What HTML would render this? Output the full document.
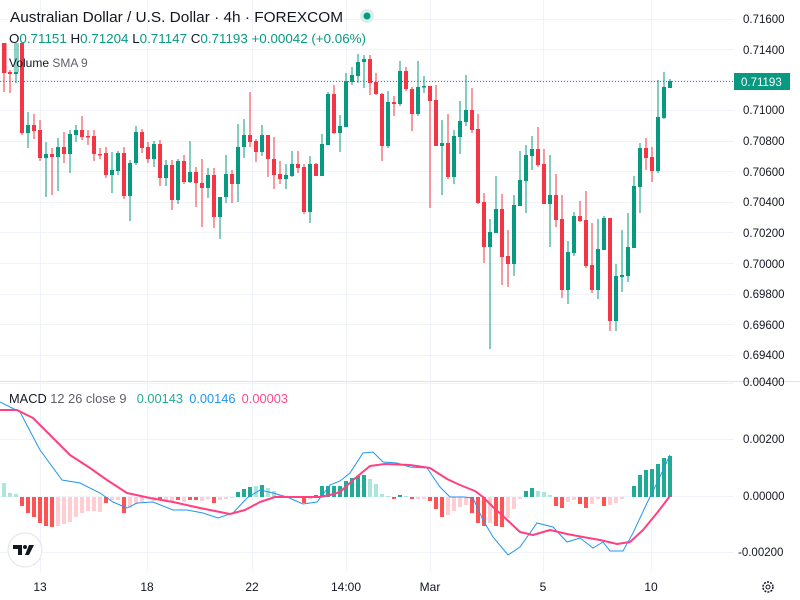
<!DOCTYPE html>
<html><head><meta charset="utf-8"><style>
html,body{margin:0;padding:0;background:#fff;}
svg{display:block;font-family:"Liberation Sans",sans-serif;}
</style></head><body>
<svg width="800" height="600" viewBox="0 0 800 600" xmlns="http://www.w3.org/2000/svg">
<rect width="800" height="600" fill="#fff"/>
<!-- grid -->
<g stroke="#f0f3fa" stroke-width="1">
<path d="M0 19.5H734M0 49.5H734M0 80.5H734M0 110.5H734M0 141.5H734M0 171.5H734M0 202.5H734M0 232.5H734M0 263.5H734M0 294.5H734M0 324.5H734M0 355.5H734"/>
<path d="M0 383.5H734M0 439.5H734M0 496.5H734M0 552.5H734"/>
<path d="M40.5 0V572M147.5 0V572M252.5 0V572M346.5 0V572M430.5 0V572M543.5 0V572M651.5 0V572"/>
</g>
<line x1="0" y1="381.5" x2="800" y2="381.5" stroke="#e0e3eb"/>
<!-- volume overlay -->
<rect x="14" y="43" width="5" height="29" fill="rgba(8,153,129,0.45)"/>
<rect x="2" y="43" width="5" height="30" fill="rgba(242,54,69,0.45)"/>
<!-- current price line -->
<line x1="0" y1="81.5" x2="734" y2="81.5" stroke="#089981" stroke-dasharray="1 2"/>
<!-- candles green -->
<g stroke="#089981" stroke-width="1" fill="none">
<path d="M16 72V83M28 112V148M46 142V197M58 138V191M70 130V173M76 125V142M112 152V193M118 151V175M130 160V221M136 126V165M154 141V167M166 160V186M178 159V204M190 141V183M208 168V198M220 197V239M226 155V203M238 124V202M244 119V158M262 125V156M286 164V189M292 151V177M310 156V223M322 134V176M328 92V145M340 115V152M346 73V127M352 67V85M358 54V83M364 55V88M388 91V148M400 61V106M418 61V116M424 76V93M442 120V195M454 130V184M460 101V154M466 75V126M490 219V349M496 176V233M514 195V276M520 151V206M526 145V213M532 136V170M550 155V247M568 241V304M574 212V256M598 219V299M604 216V250M616 264V331M622 230V292M628 213V282M634 176V248M640 143V213M658 80V173M664 72V119M670 79V88"/>
</g>
<g fill="#089981">
<path d="M14 72h4v2h-4zM26 125h4v8h-4zM44 154h4v4h-4zM56 147h4v10h-4zM68 134h4v20h-4zM74 130h4v5h-4zM110 170h4v5h-4zM116 153h4v18h-4zM128 163h4v33h-4zM134 132h4v31h-4zM152 144h4v15h-4zM164 165h4v13h-4zM176 161h4v39h-4zM188 172h4v10h-4zM206 175h4v13h-4zM218 197h4v20h-4zM224 174h4v23h-4zM236 147h4v37h-4zM242 135h4v12h-4zM260 135h4v17h-4zM284 175h4v4h-4zM290 164h4v12h-4zM308 164h4v48h-4zM320 144h4v32h-4zM326 94h4v51h-4zM338 126h4v7h-4zM344 81h4v46h-4zM350 75h4v7h-4zM356 62h4v14h-4zM362 59h4v3h-4zM386 102h4v44h-4zM398 71h4v33h-4zM416 87h4v27h-4zM422 86h4v1.5h-4zM440 143h4v3h-4zM452 136h4v41h-4zM458 121h4v16h-4zM464 110h4v12h-4zM488 232h4v15h-4zM494 209h4v24h-4zM512 205h4v59h-4zM518 180h4v26h-4zM524 155h4v26h-4zM530 149h4v7h-4zM548 195h4v9h-4zM566 252h4v38h-4zM572 216h4v37h-4zM596 249h4v41h-4zM602 218h4v32h-4zM614 276h4v45h-4zM620 275h4v2h-4zM626 247h4v29h-4zM632 186h4v62h-4zM638 148h4v39h-4zM656 117h4v54h-4zM662 87h4v31h-4zM668 81h4v7h-4z"/>
</g>
<!-- candles red -->
<g stroke="#f23645" stroke-width="1" fill="none">
<path d="M4 43V92M10 70V93M22 43V135M34 114V139M40 120V161M52 148V195M64 132V163M82 116V140M88 130V145M94 130V161M100 148V159M106 147V178M124 147V199M142 129V153M148 142V163M160 140V186M172 160V210M184 155V184M196 167V207M202 159V227M214 168V228M232 170V203M250 92V147M256 139V162M268 135V177M274 137V189M280 161V184M298 151V173M304 164V214M316 163V176M334 85V134M370 55V95M376 73V95M382 93V161M394 96V116M406 67V91M412 87V131M430 86V208M436 85V146M448 114V179M472 88V133M478 114V204M484 193V263M502 194V285M508 230V287M538 127V167M544 149V204M556 174V227M562 195V298M580 201V222M586 191V268M592 223V293M610 218V331M646 138V170M652 147V182"/>
</g>
<g fill="#f23645">
<path d="M2 43h4v30h-4zM8 72h4v2h-4zM20 43h4v90h-4zM32 125h4v6h-4zM38 130h4v28h-4zM50 154h4v3h-4zM62 147h4v7h-4zM80 130h4v7h-4zM86 136h4v1.5h-4zM92 136h4v18h-4zM98 154h4v1.5h-4zM104 153h4v22h-4zM122 153h4v43h-4zM140 132h4v16h-4zM146 147h4v12h-4zM158 144h4v34h-4zM170 165h4v35h-4zM182 161h4v21h-4zM194 172h4v11h-4zM200 183h4v5h-4zM212 175h4v42h-4zM230 174h4v10h-4zM248 135h4v7h-4zM254 141h4v11h-4zM266 135h4v24h-4zM272 159h4v16h-4zM278 174h4v5h-4zM296 164h4v4h-4zM302 167h4v45h-4zM314 164h4v12h-4zM332 94h4v39h-4zM368 59h4v24h-4zM374 82h4v12h-4zM380 94h4v52h-4zM392 102h4v2h-4zM404 71h4v18h-4zM410 89h4v25h-4zM428 86h4v15h-4zM434 100h4v46h-4zM446 143h4v34h-4zM470 110h4v20h-4zM476 129h4v74h-4zM482 202h4v45h-4zM500 209h4v48h-4zM506 256h4v8h-4zM536 149h4v16h-4zM542 164h4v40h-4zM554 195h4v25h-4zM560 219h4v71h-4zM578 216h4v5h-4zM584 220h4v46h-4zM590 265h4v25h-4zM608 218h4v103h-4zM644 148h4v10h-4zM650 157h4v14h-4z"/>
</g>
<!-- price axis -->
<g font-size="11.5" fill="#131722">
<text x="743" y="23">0.71600</text>
<text x="743" y="54">0.71400</text>
<text x="743" y="114">0.71000</text>
<text x="743" y="145">0.70800</text>
<text x="743" y="176">0.70600</text>
<text x="743" y="206">0.70400</text>
<text x="743" y="237">0.70200</text>
<text x="743" y="268">0.70000</text>
<text x="743" y="298">0.69800</text>
<text x="743" y="329">0.69600</text>
<text x="743" y="359">0.69400</text>
<text x="743" y="386">0.00400</text>
<text x="743" y="443">0.00200</text>
<text x="743" y="500">0.00000</text>
<text x="738" y="556">-0.00200</text>
</g>
<rect x="734" y="73" width="56" height="17" fill="#089981"/>
<text x="741" y="86" font-size="11.5" fill="#fff">0.71193</text>
<!-- header -->
<text x="10" y="22" font-size="14.5" fill="#131722" textLength="333" lengthAdjust="spacingAndGlyphs">Australian Dollar / U.S. Dollar · 4h · FOREXCOM</text>
<circle cx="367" cy="16" r="7" fill="#d7f0ea"/>
<circle cx="367" cy="16" r="3.5" fill="#089981"/>
<text x="9" y="43" font-size="12.5" fill="#089981" textLength="357" lengthAdjust="spacingAndGlyphs"><tspan fill="#131722">O</tspan>0.71151 <tspan fill="#131722">H</tspan>0.71204 <tspan fill="#131722">L</tspan>0.71147 <tspan fill="#131722">C</tspan>0.71193 +0.00042 (+0.06%)</text>
<text x="9" y="67" font-size="12" fill="#131722">Volume <tspan fill="#5d606b">SMA 9</tspan></text>
<!-- MACD histogram -->
<g fill="#22ab94"><path d="M236 492h4v5h-4zM242 489h4v8h-4zM248 487h4v10h-4zM260 485h4v12h-4zM290 496h4v1h-4zM314 495h4v2h-4zM320 486h4v11h-4zM326 486h4v11h-4zM332 486h4v11h-4zM338 486h4v11h-4zM344 481h4v16h-4zM350 478h4v19h-4zM356 476h4v21h-4zM362 475h4v22h-4zM398 495h4v2h-4zM524 491h4v6h-4zM530 488h4v9h-4zM632 486h4v11h-4zM638 475h4v22h-4zM644 470h4v27h-4zM650 469h4v28h-4zM656 464h4v33h-4zM662 458h4v39h-4zM668 456h4v41h-4z"/></g>
<g fill="#ace5dc"><path d="M2 483h4v14h-4zM8 493h4v4h-4zM14 494h4v3h-4zM254 486h4v11h-4zM266 488h4v9h-4zM272 491h4v6h-4zM278 495h4v2h-4zM284 496h4v1h-4zM296 496h4v1h-4zM368 479h4v18h-4zM374 484h4v13h-4zM380 494h4v3h-4zM386 496h4v1h-4zM404 496h4v1h-4zM536 491h4v6h-4zM542 492h4v5h-4zM548 495h4v2h-4z"/></g>
<g fill="#ff5252"><path d="M20 497h4v9h-4zM26 497h4v16h-4zM32 497h4v20h-4zM38 497h4v26h-4zM44 497h4v29h-4zM50 497h4v30h-4zM104 497h4v6h-4zM122 497h4v16h-4zM158 497h4v3h-4zM176 497h4v3h-4zM188 497h4v3h-4zM194 497h4v3h-4zM212 497h4v6h-4zM302 497h4v6h-4zM392 497h4v2h-4zM410 497h4v2h-4zM428 497h4v4h-4zM434 497h4v12h-4zM440 497h4v20h-4zM470 497h4v16h-4zM476 497h4v26h-4zM482 497h4v29h-4zM494 497h4v29h-4zM500 497h4v30h-4zM554 497h4v9h-4zM560 497h4v11h-4zM578 497h4v7h-4zM584 497h4v11h-4zM602 497h4v9h-4z"/></g>
<g fill="#ffcdd2"><path d="M56 497h4v29h-4zM62 497h4v27h-4zM68 497h4v25h-4zM74 497h4v20h-4zM80 497h4v16h-4zM86 497h4v14h-4zM92 497h4v14h-4zM98 497h4v15h-4zM110 497h4v3h-4zM116 497h4v3h-4zM128 497h4v11h-4zM134 497h4v7h-4zM140 497h4v5h-4zM146 497h4v2h-4zM152 497h4v4h-4zM164 497h4v5h-4zM170 497h4v5h-4zM182 497h4v5h-4zM200 497h4v4h-4zM206 497h4v2h-4zM218 497h4v3h-4zM224 497h4v2h-4zM230 497h4v1h-4zM308 497h4v2h-4zM416 497h4v2h-4zM422 497h4v2h-4zM446 497h4v18h-4zM452 497h4v14h-4zM458 497h4v10h-4zM464 497h4v8h-4zM488 497h4v26h-4zM506 497h4v21h-4zM512 497h4v12h-4zM518 497h4v2h-4zM566 497h4v5h-4zM572 497h4v3h-4zM590 497h4v7h-4zM596 497h4v2h-4zM608 497h4v8h-4zM614 497h4v6h-4zM620 497h4v2h-4z"/></g>
<!-- MACD line -->
<polyline fill="none" stroke="#2196f3" stroke-width="1" points="0,402 20,412 40,450 62,480 80,483 100,493 113,502 127,508 137,503 153,502 173,510 187,510 203,513 218,518 233,513 247,498 260,490 273,493 287,497 303,504 317,502 330,485 340,481 350,473 363,453 373,452 383,462 397,463 410,467 427,468 440,487 450,497 463,497 473,498 483,520 493,537 508,555 520,547 537,523 553,527 567,542 580,538 593,548 603,542 610,551 623,551 633,533 647,503 657,483 670,455"/>
<!-- signal -->
<polyline fill="none" stroke="#ff4081" stroke-width="2" stroke-linejoin="round" points="0,410 17,410 33,418 50,435 70,455 90,468 107,480 127,493 150,498 173,502 200,508 230,514 245,510 260,502 275,497 300,497 320,497 330,495 340,492 353,480 370,466 385,464 410,465 430,468 447,479 460,485 475,491 483,497 493,507 505,518 520,532 533,535 550,530 567,534 583,537 600,540 617,544 630,542 643,530 657,513 670,496"/>
<!-- MACD legend -->
<text x="9" y="403" font-size="12.5" fill="#131722" textLength="279" lengthAdjust="spacingAndGlyphs">MACD <tspan fill="#5d606b">12 26 close 9</tspan><tspan dx="10" fill="#22ab94">0.00143</tspan><tspan dx="6" fill="#2196f3">0.00146</tspan><tspan dx="6" fill="#ff4a8d">0.00003</tspan></text>
<!-- TV logo -->
<circle cx="25" cy="550" r="17" fill="#fff" stroke="#e0e3eb"/>
<path d="M13 545h9v10h-4v-6h-5z" fill="#131722"/>
<circle cx="25" cy="547" r="2" fill="#131722"/>
<path d="M29 545h5l-5 10h-4z" fill="#131722"/>
<!-- time axis -->
<g font-size="12" fill="#131722" text-anchor="middle">
<text x="40" y="591">13</text>
<text x="147" y="591">18</text>
<text x="252" y="591">22</text>
<text x="346" y="591">14:00</text>
<text x="430" y="591">Mar</text>
<text x="543" y="591">5</text>
<text x="651" y="591">10</text>
</g>
<!-- gear -->
<circle cx="768" cy="587" r="5" fill="none" stroke="#131722" stroke-width="1.5" stroke-dasharray="2 1.2"/>
<circle cx="768" cy="587" r="2" fill="none" stroke="#131722"/>
</svg>
</body></html>
